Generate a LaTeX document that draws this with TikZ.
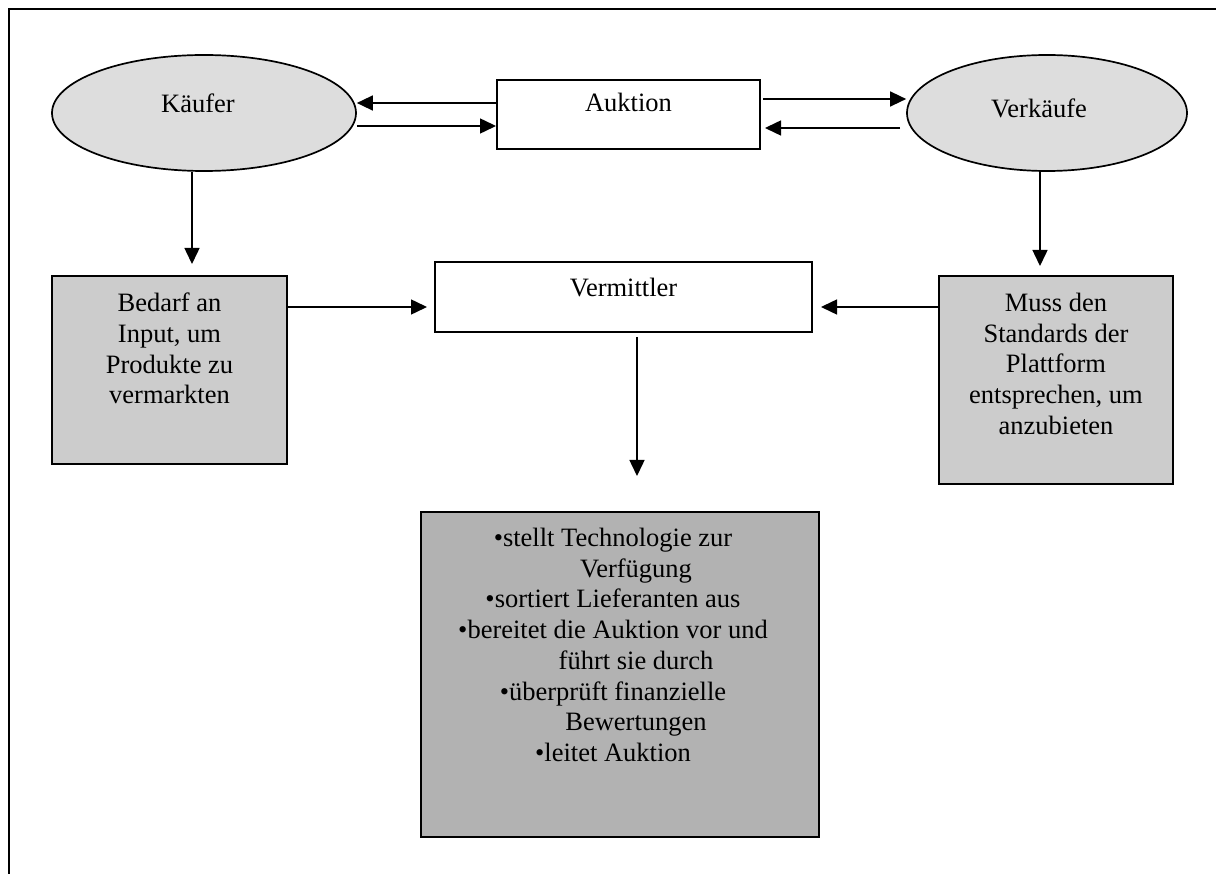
\documentclass[tikz,border=0pt]{standalone}
\usepackage{fontspec}
\setmainfont{Liberation Serif}
\usetikzlibrary{arrows.meta,shapes.geometric}
\definecolor{ovalgray}{HTML}{DDDDDD}
\definecolor{boxgray}{HTML}{CCCCCC}
\definecolor{darkboxgray}{HTML}{B2B2B2}
\begin{document}
\begin{tikzpicture}[x=1pt,y=-1pt,
  every node/.style={font=\fontsize{26.5}{30.7}\selectfont},
  oval/.style={ellipse, draw, line width=1.7pt, fill=ovalgray, inner sep=0pt},
  plainbox/.style={rectangle, draw, line width=2pt, fill=white, inner sep=0pt},
  graybox/.style={rectangle, draw, line width=2pt, fill=boxgray, inner sep=0pt},
  boxtext/.style={align=center, inner sep=0pt, anchor=north},
  link/.style={line width=1.5pt, -{Triangle[length=16pt,width=15pt]}}
]
\useasboundingbox (0,0) rectangle (1216,874);
% page frame
\draw[line width=2pt] (9,874) -- (9,9) -- (1216,9);

% participants
\node[oval, minimum width=304pt, minimum height=116pt, text height=18pt, text depth=18pt] (kauf) at (204,113) {Käufer\hspace*{12pt}};
\node[oval, minimum width=280pt, minimum height=116pt, text height=20pt, text depth=10pt] (verk) at (1047,113) {Verkäufe\hspace*{16pt}};

% auction and intermediary
\node[plainbox, minimum width=263pt, minimum height=69pt, text height=18pt, text depth=23pt] (auk) at (628.5,114.5) {Auktion};
\node[plainbox, minimum width=377pt, minimum height=70pt, text height=18pt, text depth=18pt] (verm) at (623.5,297) {Vermittler};

% requirement boxes
\node[graybox, minimum width=235pt, minimum height=188pt] (bed) at (169.5,370) {};
\node[boxtext] (bedtxt) at ([yshift=-18pt]bed.north) {Bedarf an\\Input, um\\Produkte zu\\vermarkten};
\node[graybox, minimum width=234pt, minimum height=208pt] (muss) at (1056,380) {};
\node[boxtext] (musstxt) at ([yshift=-18pt]muss.north) {Muss den\\Standards der\\Plattform\\entsprechen, um\\anzubieten};

% tasks of the intermediary
\node[graybox, fill=darkboxgray, minimum width=398pt, minimum height=325pt] (low) at (620,674.5) {};
\node[boxtext] (lowtxt) at ([xshift=-7pt,yshift=-17pt]low.north) {%
•stellt Technologie zur\\
\hspace*{46pt}Verfügung\\
•sortiert Lieferanten aus\\
•bereitet die Auktion vor und\\
\hspace*{46pt}führt sie durch\\
•überprüft finanzielle\\
\hspace*{46pt}Bewertungen\\
•leitet Auktion};

% connectors
\draw[link] ([yshift=11.5pt]auk.west) -- ([yshift=10pt]kauf.east);
\draw[link] ([yshift=-13pt]kauf.east) -- ([yshift=-11.5pt]auk.west);
\draw[link] ([xshift=2pt,yshift=15.5pt]auk.east) -- ([yshift=14pt]verk.west);
\draw[link] ([xshift=-6pt,yshift=-15pt]verk.west) -- ([xshift=4pt,yshift=-13.5pt]auk.east);
\draw[link] ([xshift=-12pt]kauf.south) -- ([xshift=22.5pt,yshift=11pt]bed.north);
\draw[link] ([xshift=-7pt]verk.south) -- ([xshift=-16pt,yshift=9pt]muss.north);
\draw[link] ([yshift=63pt]bed.east) -- ([xshift=-7pt,yshift=-10pt]verm.west);
\draw[link] ([yshift=73pt]muss.west) -- ([xshift=8pt,yshift=-10pt]verm.east);
\draw[link] ([xshift=13.5pt,yshift=-4pt]verm.south) -- ([xshift=17pt,yshift=35pt]low.north);
\end{tikzpicture}
\end{document}
